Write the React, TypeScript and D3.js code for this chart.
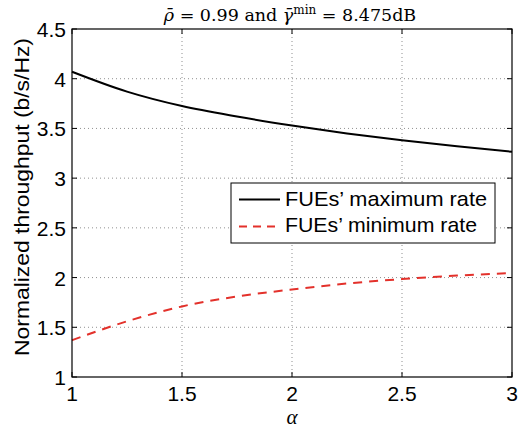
import React from "react";
import * as d3 from "d3";

const alphaValues = [1, 1.25, 1.5, 1.75, 2, 2.25, 2.5, 2.75, 3];
const maxRate = [4.07, 3.87, 3.725, 3.62, 3.53, 3.45, 3.38, 3.32, 3.265];
const minRate = [1.37, 1.56, 1.71, 1.81, 1.88, 1.94, 1.985, 2.02, 2.045];
const xTicks = [1, 1.5, 2, 2.5, 3];
const yTicks = [1, 1.5, 2, 2.5, 3, 3.5, 4, 4.5];
const seriesNames = ["FUEs’ maximum rate", "FUEs’ minimum rate"];

const W = 523, H = 429;
const L = 72, R = 512, T = 29, B = 377;

export default function App() {
  const x = d3.scaleLinear().domain([1, 3]).range([L, R]);
  const y = d3.scaleLinear().domain([1, 4.5]).range([B, T]);
  const line = d3.line<number>().x((_, i) => x(alphaValues[i])).y((d) => y(d)).curve(d3.curveMonotoneX);
  const font = "'Liberation Sans', Arial, Helvetica, sans-serif";
  const fs = 21;
  const tl = 5;
  const red = "#e3312b";
  return (
    <svg width={W} height={H} style={{ position: "absolute", left: 0, top: 0, background: "#fff" }}>
      <rect x={0} y={0} width={W} height={H} fill="#fff" />
      {/* grid */}
      {xTicks.slice(1, -1).map((t) => (
        <line key={"gx" + t} x1={x(t)} x2={x(t)} y1={T} y2={B} stroke="#444" strokeWidth={0.6} strokeDasharray="1,3" />
      ))}
      {yTicks.slice(1, -1).map((t) => (
        <line key={"gy" + t} x1={L} x2={R} y1={y(t)} y2={y(t)} stroke="#444" strokeWidth={0.6} strokeDasharray="1,3" />
      ))}
      {/* ticks */}
      {xTicks.map((t) => (
        <g key={"tx" + t}>
          <line x1={x(t)} x2={x(t)} y1={B} y2={B - tl} stroke="#000" />
          <line x1={x(t)} x2={x(t)} y1={T} y2={T + tl} stroke="#000" />
          <text x={x(t)} y={B + 24} textAnchor="middle" fontFamily={font} fontSize={fs}>{t}</text>
        </g>
      ))}
      {yTicks.map((t) => (
        <g key={"ty" + t}>
          <line x1={L} x2={L + tl} y1={y(t)} y2={y(t)} stroke="#000" />
          <line x1={R} x2={R - tl} y1={y(t)} y2={y(t)} stroke="#000" />
          <text x={L - 6} y={y(t) + 8} textAnchor="end" fontFamily={font} fontSize={fs}>{t}</text>
        </g>
      ))}
      {/* curves */}
      <path d={line(maxRate) || ""} fill="none" stroke="#000" strokeWidth={2} />
      <path d={line(minRate) || ""} fill="none" stroke={red} strokeWidth={2} strokeDasharray="9,7" />
      {/* frame */}
      <rect x={L} y={T} width={R - L} height={B - T} fill="none" stroke="#000" strokeWidth={1.2} />
      {/* legend */}
      <rect x={231} y={183} width={264} height={60} fill="#fff" stroke="#000" strokeWidth={1} />
      <line x1={239} x2={280} y1={199.5} y2={199.5} stroke="#000" strokeWidth={2} />
      <text x={285} y={206} fontFamily={font} fontSize={fs} textLength={202} lengthAdjust="spacingAndGlyphs">{seriesNames[0]}</text>
      <line x1={239} x2={280} y1={226.5} y2={226.5} stroke={red} strokeWidth={2} strokeDasharray="8,6" />
      <text x={285} y={232} fontFamily={font} fontSize={fs} textLength={192} lengthAdjust="spacingAndGlyphs">{seriesNames[1]}</text>
      {/* title */}
      <text x={290} y={21} textAnchor="middle" fontFamily="'DejaVu Serif', 'Liberation Serif', serif" fontSize={17.5}>
        <tspan fontStyle="italic">ρ̄</tspan>
        <tspan> = 0.99 and </tspan>
        <tspan fontStyle="italic">γ̄</tspan>
        <tspan fontSize={12} dy={-7}>min</tspan>
        <tspan dy={7}> = 8.475dB</tspan>
      </text>
      {/* axis labels */}
      <text x={292} y={424} textAnchor="middle" fontFamily="'Liberation Serif', serif" fontStyle="italic" fontSize={21}>α</text>
      <text transform={`translate(29, ${(T + B) / 2 - 6}) rotate(-90)`} textAnchor="middle" fontFamily={font} fontSize={fs} textLength={318} lengthAdjust="spacingAndGlyphs">
        Normalized throughput (b/s/Hz)
      </text>
    </svg>
  );
}
